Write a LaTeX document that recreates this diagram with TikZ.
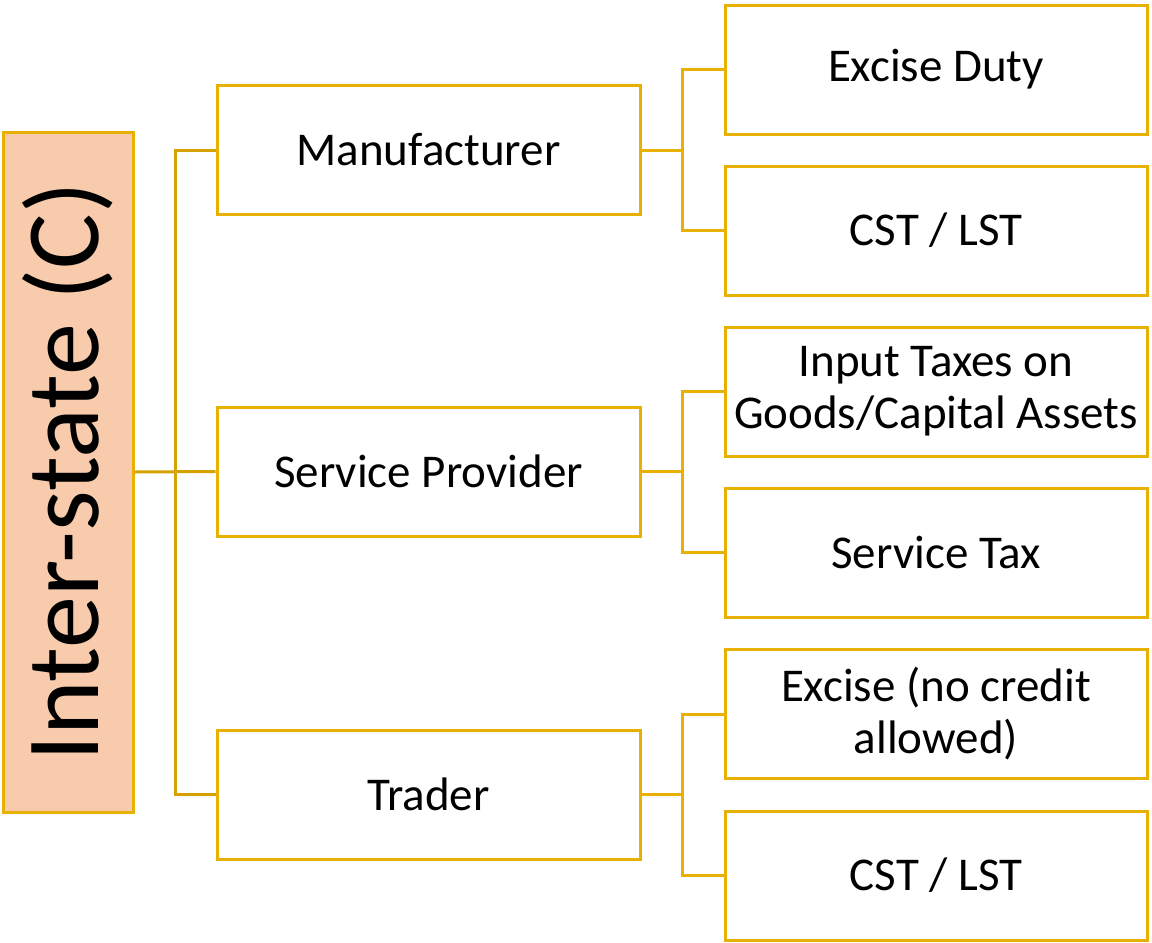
\documentclass[tikz,border=0pt]{standalone}
\usepackage{fontspec}
\setmainfont{Carlito}
\definecolor{gold}{HTML}{E8B000}
\definecolor{darkgold}{HTML}{D6A200}
\definecolor{peach}{HTML}{F8CBAD}
\begin{document}
\begin{tikzpicture}[x=1pt,y=-1pt,
  box/.style={draw=gold, line width=3pt, fill=white, rectangle, inner sep=0pt,
    align=center, font=\fontsize{47}{52}\selectfont},
  midbox/.style={box, minimum width=423pt, minimum height=129pt},
  leafbox/.style={box, minimum width=422pt, minimum height=129pt},
  rootbox/.style={draw=gold, line width=3pt, fill=peach, rectangle, inner sep=0pt,
    minimum width=130pt, minimum height=680pt},
  link/.style={draw=gold, line width=3pt},
  rootlink/.style={draw=darkgold, line width=3pt}]
\useasboundingbox (0,0) rectangle (1152,943);

% root
\node[rootbox] (root) at (68,472) {};
\node[rotate=90, font=\fontsize{104}{110}\selectfont] (roottext) at (root.center) {Inter-state (C)};

% second level
\node[midbox] (m1) at (428.5,150) {Manufacturer};
\node[midbox] (m2) at (428.5,471.5) {Service Provider};
\node[midbox] (m3) at (428.5,794.5) {Trader};

% leaves
\node[leafbox] (l1) at (936,69.5) {Excise Duty};
\node[leafbox] (l2) at (936,230.5) {CST / LST};
\node[leafbox] (l3) at (936,391.5) {Input Taxes on\\Goods/Capital Assets};
\node[leafbox] (l4) at (936,552.5) {Service Tax};
\node[leafbox] (l5) at (936,714) {Excise (no credit\\allowed)};
\node[leafbox] (l6) at (936,875.5) {CST / LST};

% junction columns
\coordinate (jroot) at (175,0);
\coordinate (jleaf) at (682,0);

% root to second level
\draw[rootlink] (root.east) -- (m2.west);
\draw[rootlink] (m1.west) -| (jroot |- m1.west) |- (m3.west);

% second level to leaves
\foreach \m/\a/\b in {m1/l1/l2, m2/l3/l4, m3/l5/l6}{
  \draw[link] (\m.east) -- (jleaf |- \m.east);
  \draw[link] (\a.west) -- (jleaf |- \a.west) -- (jleaf |- \b.west) -- (\b.west);
}
\end{tikzpicture}
\end{document}
